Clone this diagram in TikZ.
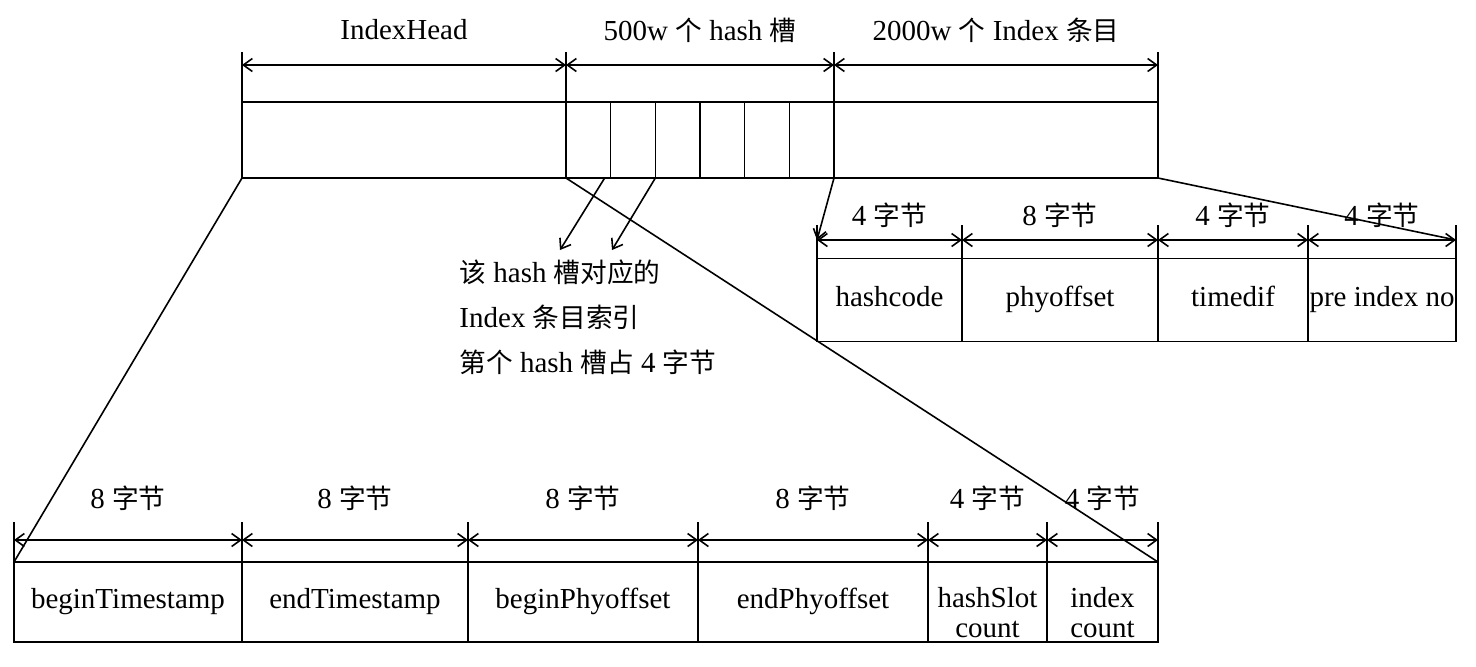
\documentclass[tikz,border=0pt]{standalone}
\usepackage{fontspec}
\setmainfont{Liberation Serif}
\newfontfamily\cjk[Scale=0.92]{Noto Sans CJK SC}
\usepackage{tikz}
\usetikzlibrary{arrows,arrows.meta}
\newcommand{\zh}[1]{{\cjk #1}}

\begin{document}
\begin{tikzpicture}[x=0.5pt,y=-0.5pt,>={Straight Barb[length=4.5pt,width=6.5pt]},line width=0.8pt]
	\useasboundingbox (0,0) rectangle (1476,666);
	
	\tikzstyle{edge} = [draw,-]
	\tikzstyle{dim} = [draw,<->]
	\tikzset{lbl/.style = {font=\fontsize{14.5}{17}\selectfont}}
	\tikzset{field/.style = {shape=rectangle,draw,inner sep=0pt,outer sep=0pt,minimum height=38pt,align=center,execute at begin node=\strut,font=\fontsize{14.5}{15}\selectfont}}
	
	% top bar
	\node[field,minimum width=162pt] (head) at (404,140) {};
	\foreach \i in {1,...,6}
		\node[field,minimum width=22.33pt] (s\i) at ({566+44.67*(\i-0.5)},140) {};
	\node[field,minimum width=162pt] (entry) at (996,140) {};
	
	\coordinate (t0) at (242,52);
	\coordinate (t1) at (566,52);
	\coordinate (t2) at (834,52);
	\coordinate (t3) at (1158,52);
	\coordinate (d0) at (242,65);
	\coordinate (d1) at (566,65);
	\coordinate (d2) at (834,65);
	\coordinate (d3) at (1158,65);
	\draw[edge] (head.north west) to (t0);
	\draw[edge] (head.north east) to (t1);
	\draw[edge] (entry.north west) to (t2);
	\draw[edge] (entry.north east) to (t3);
	\foreach \a/\b in {d0/d1,d1/d2,d2/d3}
		\draw[dim] (\a) to (\b);
	\node[lbl] (headtxt) at (404,30) {IndexHead};
	\node[lbl] (slottxt) at (700,30) {500w \zh{个} hash \zh{槽}};
	\node[lbl] (entrytxt) at (996,30) {2000w \zh{个} Index \zh{条目}};
	
	% index entry
	\tikzset{field/.append style = {minimum height=41.5pt}}
	\node[field,minimum width=72.5pt] (hc) at (889.5,300) {hashcode};
	\node[field,minimum width=98pt] (po) at (1060,300) {phyoffset};
	\node[field,minimum width=75pt] (td) at (1233,300) {timedif};
	\node[field,minimum width=74pt] (pin) at (1382,300) {pre index no};
	
	\coordinate (r0) at (817,225);
	\coordinate (r1) at (962,225);
	\coordinate (r2) at (1158,225);
	\coordinate (r3) at (1308,225);
	\coordinate (r4) at (1456,225);
	\coordinate (e0) at (817,240);
	\coordinate (e1) at (962,240);
	\coordinate (e2) at (1158,240);
	\coordinate (e3) at (1308,240);
	\coordinate (e4) at (1456,240);
	\draw[edge] (hc.north west) to (r0);
	\draw[edge] (po.north west) to (r1);
	\draw[edge] (td.north west) to (r2);
	\draw[edge] (pin.north west) to (r3);
	\draw[edge] (pin.north east) to (r4);
	\foreach \a/\b in {e0/e1,e1/e2,e2/e3,e3/e4}
		\draw[dim] (\a) to (\b);
	\node[lbl] (hcsize) at (889.5,215) {4 \zh{字节}};
	\node[lbl] (posize) at (1060,215) {8 \zh{字节}};
	\node[lbl] (tdsize) at (1233,215) {4 \zh{字节}};
	\node[lbl] (pinsize) at (1382,215) {4 \zh{字节}};
	
	\draw[->] (entry.south west) to (e0);
	\draw[edge] (entry.south east) to (e4);
	
	% index head
	\tikzset{field/.append style = {minimum height=40pt}}
	\node[field,minimum width=114pt] (bts) at (128,602) {beginTimestamp};
	\node[field,minimum width=113pt] (ets) at (355,602) {endTimestamp};
	\node[field,minimum width=115pt] (bpo) at (583,602) {beginPhyoffset};
	\node[field,minimum width=115pt] (epo) at (813,602) {endPhyoffset};
	\node[field,minimum width=59.5pt,text height=35pt,text depth=0pt] (hsc) at (987.5,602) {hashSlot\\count};
	\node[field,minimum width=55.5pt,text height=35pt,text depth=0pt] (ic) at (1102.5,602) {index\\count};
	
	\coordinate (b0) at (14,522);
	\coordinate (b1) at (242,522);
	\coordinate (b2) at (468,522);
	\coordinate (b3) at (698,522);
	\coordinate (b4) at (928,522);
	\coordinate (b5) at (1047,522);
	\coordinate (b6) at (1158,522);
	\coordinate (g0) at (14,540);
	\coordinate (g1) at (242,540);
	\coordinate (g2) at (468,540);
	\coordinate (g3) at (698,540);
	\coordinate (g4) at (928,540);
	\coordinate (g5) at (1047,540);
	\coordinate (g6) at (1158,540);
	\draw[edge] (bts.north west) to (b0);
	\draw[edge] (ets.north west) to (b1);
	\draw[edge] (bpo.north west) to (b2);
	\draw[edge] (epo.north west) to (b3);
	\draw[edge] (hsc.north west) to (b4);
	\draw[edge] (ic.north west) to (b5);
	\draw[edge] (ic.north east) to (b6);
	\foreach \a/\b in {g0/g1,g1/g2,g2/g3,g3/g4,g4/g5,g5/g6}
		\draw[dim] (\a) to (\b);
	\node[lbl] (btssize) at (128,498) {8 \zh{字节}};
	\node[lbl] (etssize) at (355,498) {8 \zh{字节}};
	\node[lbl] (bposize) at (583,498) {8 \zh{字节}};
	\node[lbl] (eposize) at (813,498) {8 \zh{字节}};
	\node[lbl] (hscsize) at (987.5,498) {4 \zh{字节}};
	\node[lbl] (icsize) at (1102.5,498) {4 \zh{字节}};
	
	\draw[edge] (head.south west) to (bts.north west);
	\draw[edge] (head.south east) to (ic.north east);
	
	% hash slot note
	\node[lbl,align=left,anchor=west,font=\fontsize{14.5}{22.5}\selectfont] (note) at (452,317)
		{\zh{该} hash \zh{槽对应的}\\Index \zh{条目索引}\\\zh{第个} hash \zh{槽占} 4 \zh{字节}};
	\coordinate (a1) at (560,250);
	\coordinate (a2) at (612,250);
	\draw[->] ([xshift=-3pt]s1.south east) to (a1);
	\draw[->] (s2.south east) to (a2);
	\end{tikzpicture}
\end{document}
